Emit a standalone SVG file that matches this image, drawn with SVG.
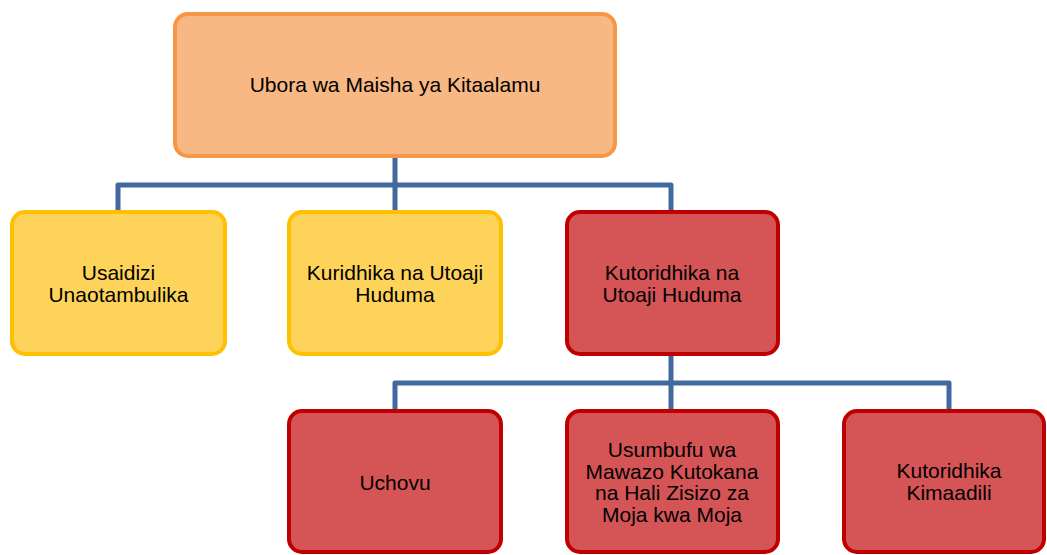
<svg xmlns="http://www.w3.org/2000/svg" width="1047" height="555" viewBox="0 0 1047 555">
<style>
.t{font-family:"Liberation Sans",Arial,sans-serif;font-size:21px;fill:#000;text-anchor:middle}
.org{fill:#F8B883;stroke:#F79646;stroke-width:4}
.yel{fill:#FED35A;stroke:#FFC000;stroke-width:4}
.red{fill:#D55456;stroke:#C00000;stroke-width:4}
.c{fill:none;stroke:#41699D;stroke-width:5;stroke-linejoin:round}
</style>
<rect width="1047" height="555" fill="#fff"/>
<g id="connectors">
<path class="c" d="M395,156 V185"/>
<path class="c" d="M118,212 V185 H671 V212"/>
<path class="c" d="M395,185 V212"/>
<path class="c" d="M671,354 V383"/>
<path class="c" d="M395,411 V383 H949 V411"/>
<path class="c" d="M671,383 V411"/>
</g>
<g id="root">
<rect class="org" x="175" y="14" width="440" height="142" rx="13"/>
<text class="t" x="395" y="92">Ubora wa Maisha ya Kitaalamu</text>
</g>
<g id="usaidizi">
<rect class="yel" x="12" y="212" width="213" height="142" rx="13"/>
<text class="t" x="118.5" y="280">Usaidizi</text>
<text class="t" x="118.5" y="302">Unaotambulika</text>
</g>
<g id="kuridhika">
<rect class="yel" x="289" y="212" width="212" height="142" rx="13"/>
<text class="t" x="395" y="280">Kuridhika na Utoaji</text>
<text class="t" x="395" y="302">Huduma</text>
</g>
<g id="kutoridhika">
<rect class="red" x="567" y="212" width="211" height="142" rx="13"/>
<text class="t" x="672" y="280">Kutoridhika na</text>
<text class="t" x="672" y="302">Utoaji Huduma</text>
</g>
<g id="uchovu">
<rect class="red" x="289" y="411" width="212" height="141" rx="13"/>
<text class="t" x="395" y="490">Uchovu</text>
</g>
<g id="usumbufu">
<rect class="red" x="567" y="411" width="211" height="141" rx="13"/>
<text class="t" x="672" y="457">Usumbufu wa</text>
<text class="t" x="672" y="479">Mawazo Kutokana</text>
<text class="t" x="672" y="500">na Hali Zisizo za</text>
<text class="t" x="672" y="522">Moja kwa Moja</text>
</g>
<g id="kimaadili">
<rect class="red" x="844" y="411" width="200" height="141" rx="13"/>
<text class="t" x="949" y="478">Kutoridhika</text>
<text class="t" x="949" y="500">Kimaadili</text>
</g>
</svg>
